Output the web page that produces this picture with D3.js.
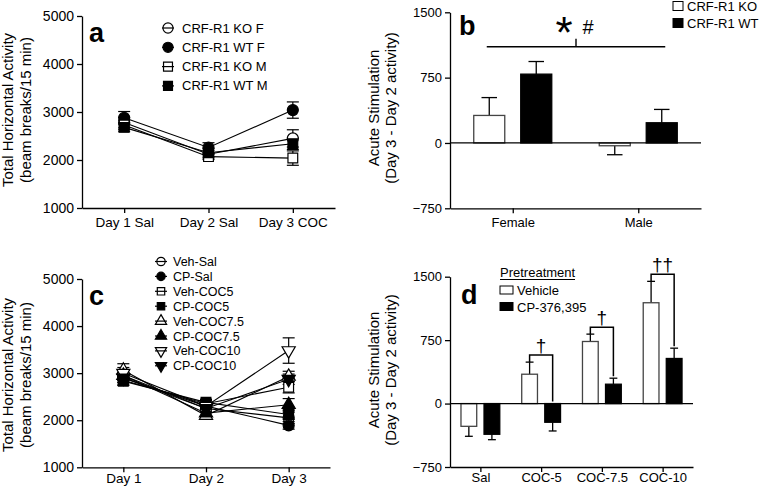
<!DOCTYPE html>
<html><head><meta charset="utf-8">
<script src="https://cdn.jsdelivr.net/npm/d3@7"></script>
<style>
body{margin:0;background:#fff}
svg text{font-family:Arial,"Liberation Sans",sans-serif;fill:#000}
</style>
</head><body>
<svg id="chart" width="761" height="487"></svg>
<script>
// ---------- Panel a data ----------
const daysA = ["Day 1 Sal", "Day 2 Sal", "Day 3 COC"];
const seriesA = ["CRF-R1 KO F", "CRF-R1 WT F", "CRF-R1 KO M", "CRF-R1 WT M"];
const koF = [2780, 2120, 2450];
const koFErr = [110, 80, 180];
const wtF = [2880, 2260, 3040];
const wtFErr = [130, 100, 170];
const koM = [2730, 2070, 2040];
const koMErr = [100, 60, 150];
const wtM = [2680, 2150, 2340];
const wtMErr = [90, 90, 120];
const ticksActivity = [1000, 2000, 3000, 4000, 5000];

// ---------- Panel b data ----------
const sexB = ["Female", "Male"];
const genotypeB = ["CRF-R1 KO", "CRF-R1 WT"];
const koB = [316, -32];
const koBErr = [205, 103];
const wtB = [790, 232];
const wtBErr = [145, 153];
const ticksStim = [-750, 0, 750, 1500];

// ---------- Panel c data ----------
const daysC = ["Day 1", "Day 2", "Day 3"];
const seriesC = ["Veh-Sal", "CP-Sal", "Veh-COC5", "CP-COC5", "Veh-COC7.5", "CP-COC7.5", "Veh-COC10", "CP-COC10"];
const vehSal = [2950, 2250, 2050];
const cpSal = [2900, 2300, 1890];
const vehCOC5 = [2850, 2350, 2700];
const cpCOC5 = [2830, 2380, 2120];
const vehCOC75 = [3060, 2100, 2930];
const cpCOC75 = [2950, 2150, 2330];
const vehCOC10 = [3000, 2300, 3480];
const cpCOC10 = [2900, 2250, 2870];
const vehSalErr = [110, 80, 120];
const cpSalErr = [100, 70, 80];
const vehCOC5Err = [100, 70, 120];
const cpCOC5Err = [90, 60, 100];
const vehCOC75Err = [140, 70, 110];
const cpCOC75Err = [110, 70, 130];
const vehCOC10Err = [120, 80, 270];
const cpCOC10Err = [100, 70, 110];

// ---------- Panel d data ----------
const doseD = ["Sal", "COC-5", "COC-7.5", "COC-10"];
const pretreatD = ["Vehicle", "CP-376,395"];
const vehD = [-269, 347, 734, 1192];
const vehDErr = [118, 143, 87, 253];
const cpD = [-363, -221, 229, 533];
const cpDErr = [64, 103, 71, 122];
const sigD = ["", "†", "†", "††"];

const svg = d3.select("#chart");
svg.append("rect").attr("width", 761).attr("height", 487).attr("fill", "#fff");

const FONT = 'Arial, "Liberation Sans", sans-serif';

function styleAxis(g, fs) {
  g.attr("font-family", FONT).attr("font-size", fs);
  g.select(".domain").attr("stroke", "#000").attr("stroke-width", 1.3);
  g.selectAll(".tick line").attr("stroke", "#000").attr("stroke-width", 1.3);
  g.selectAll(".tick text").attr("fill", "#000");
}

function yTitle(lines, xs, cy) {
  lines.forEach((t, i) => {
    svg.append("text").attr("transform", `translate(${xs[i]},${cy}) rotate(-90)`)
      .attr("text-anchor", "middle").attr("font-size", 15).text(t);
  });
}

function panelLetter(t, x, y) {
  svg.append("text").attr("x", x).attr("y", y).attr("font-size", 27)
    .attr("font-weight", "bold").text(t);
}

function symbolPath(kind, size) {
  const type = kind.startsWith("circle") ? d3.symbolCircle :
               kind.startsWith("square") ? d3.symbolSquare : d3.symbolTriangle;
  return d3.symbol().type(type).size(size)();
}

// ---------- line panel ----------
function linePanel(opt) {
  const x = d3.scalePoint().domain(opt.days).range(opt.xRange).padding(0.5);
  const y = d3.scaleLinear().domain([1000, 5000]).range(opt.yRange);
  const g = svg.append("g");
  const ax = g.append("g").attr("transform", `translate(0,${opt.yRange[0]})`)
    .call(d3.axisBottom(x).tickSize(5).tickSizeOuter(0).tickPadding(opt.xPad));
  styleAxis(ax, 13.5);
  const ay = g.append("g").attr("transform", `translate(${opt.xRange[0]},0)`)
    .call(d3.axisLeft(y).tickValues(ticksActivity).tickSize(5).tickSizeOuter(0).tickPadding(3).tickFormat(d3.format("d")));
  styleAxis(ay, 14);

  const line = d3.line().x((d, i) => x(opt.days[i])).y(d => y(d));
  opt.series.forEach(s => {
    g.append("path").attr("d", line(s.values)).attr("fill", "none")
      .attr("stroke", "#000").attr("stroke-width", 1.1);
  });
  opt.series.forEach(s => {
    s.values.forEach((v, i) => {
      const cx = x(opt.days[i]);
      const e = s.err[i];
      g.append("line").attr("x1", cx).attr("x2", cx).attr("y1", y(v - e)).attr("y2", y(v + e))
        .attr("stroke", "#000").attr("stroke-width", 1.2);
      [v - e, v + e].forEach(w => g.append("line").attr("x1", cx - 6).attr("x2", cx + 6)
        .attr("y1", y(w)).attr("y2", y(w)).attr("stroke", "#000").attr("stroke-width", 1.2));
    });
  });
  opt.series.forEach(s => {
    s.values.forEach((v, i) => {
      const rot = s.kind.includes("down") ? 180 : 0;
      g.append("path").attr("d", symbolPath(s.kind, s.kind.startsWith("tri") ? 75 : 95))
        .attr("transform", `translate(${x(opt.days[i])},${y(v)}) rotate(${rot})`)
        .attr("fill", s.filled ? "#000" : "#fff").attr("stroke", "#000").attr("stroke-width", 1.2);
    });
  });
  // legend
  opt.series.forEach((s, i) => {
    const cy = opt.legY + i * opt.legDy;
    const lg = g.append("g");
    lg.append("line").attr("x1", opt.legX - 6).attr("x2", opt.legX + 6).attr("y1", cy).attr("y2", cy)
      .attr("stroke", "#000").attr("stroke-width", 1.2);
    const rot = s.kind.includes("down") ? 180 : 0;
    lg.append("path").attr("d", symbolPath(s.kind, opt.legSize))
      .attr("transform", `translate(${opt.legX},${cy}) rotate(${rot})`)
      .attr("fill", s.filled ? "#000" : "none").attr("stroke", "#000").attr("stroke-width", 1.2);
    lg.append("text").attr("x", opt.legX + opt.legTx).attr("y", cy + 4.5)
      .attr("font-size", opt.legFs).text(s.name);
  });
}

// ---------- bar panel ----------
function barPanel(opt) {
  const x = d3.scalePoint().domain(opt.groups).range(opt.xRange).padding(0.5);
  const inner = d3.scaleBand().domain([0, 1]).range([-opt.half, opt.half]).paddingInner(opt.pin);
  const y = d3.scaleLinear().domain([-750, 1500]).range(opt.yRange);
  const g = svg.append("g");
  const ax = g.append("g").attr("transform", `translate(0,${opt.yRange[0]})`)
    .call(d3.axisBottom(x).tickSize(5).tickSizeOuter(0).tickPadding(opt.xPad));
  styleAxis(ax, 13);
  const ay = g.append("g").attr("transform", `translate(${opt.xRange[0]},0)`)
    .call(d3.axisLeft(y).tickValues(ticksStim).tickSize(5).tickSizeOuter(0).tickPadding(3).tickFormat(d3.format("d")));
  styleAxis(ay, 13);

  const bw = inner.bandwidth();
  const cap = bw / 2;
  [opt.a, opt.b].forEach((vals, k) => {
    const errs = k === 0 ? opt.aErr : opt.bErr;
    vals.forEach((v, i) => {
      const bx = x(opt.groups[i]) + inner(k);
      const cx = bx + bw / 2;
      const tip = v + (v >= 0 ? errs[i] : -errs[i]);
      g.append("line").attr("x1", cx).attr("x2", cx).attr("y1", y(v)).attr("y2", y(tip))
        .attr("stroke", "#000").attr("stroke-width", 1.3);
      g.append("line").attr("x1", cx - cap / 2).attr("x2", cx + cap / 2).attr("y1", y(tip)).attr("y2", y(tip))
        .attr("stroke", "#000").attr("stroke-width", 1.3);
      g.append("rect").attr("x", bx).attr("width", bw)
        .attr("y", y(Math.max(v, 0))).attr("height", Math.abs(y(v) - y(0)))
        .attr("fill", k === 0 ? "#fff" : "#000").attr("stroke", k === 0 ? "#444" : "#000").attr("stroke-width", 1.3);
    });
  });
  g.append("line").attr("x1", opt.xRange[0]).attr("x2", opt.xRange[1]).attr("y1", y(0)).attr("y2", y(0))
    .attr("stroke", "#000").attr("stroke-width", 1.3);
  return { x, y, inner, bw };
}

// ===== Panel a =====
linePanel({
  days: daysA, xRange: [82, 335], yRange: [208, 16], xPad: 4,
  series: [
    { name: seriesA[0], values: koF, err: koFErr, kind: "circle", filled: false },
    { name: seriesA[1], values: wtF, err: wtFErr, kind: "circle", filled: true },
    { name: seriesA[2], values: koM, err: koMErr, kind: "square", filled: false },
    { name: seriesA[3], values: wtM, err: wtMErr, kind: "square", filled: true }
  ],
  legX: 168, legY: 28, legDy: 19.3, legTx: 14, legSize: 80, legFs: 13
});
panelLetter("a", 89, 42);
yTitle(["Total Horizontal Activity", "(beam breaks/15 min)"], [13, 31], 110);

// ===== Panel c =====
linePanel({
  days: daysC, xRange: [82, 330], yRange: [467.3, 279], xPad: 1,
  series: [
    { name: seriesC[0], values: vehSal, err: vehSalErr, kind: "circle", filled: false },
    { name: seriesC[1], values: cpSal, err: cpSalErr, kind: "circle", filled: true },
    { name: seriesC[2], values: vehCOC5, err: vehCOC5Err, kind: "square", filled: false },
    { name: seriesC[3], values: cpCOC5, err: cpCOC5Err, kind: "square", filled: true },
    { name: seriesC[4], values: vehCOC75, err: vehCOC75Err, kind: "triangle", filled: false },
    { name: seriesC[5], values: cpCOC75, err: cpCOC75Err, kind: "triangle", filled: true },
    { name: seriesC[6], values: vehCOC10, err: vehCOC10Err, kind: "triangle-down", filled: false },
    { name: seriesC[7], values: cpCOC10, err: cpCOC10Err, kind: "triangle-down", filled: true }
  ],
  legX: 161, legY: 261.5, legDy: 14.9, legTx: 12, legSize: 55, legFs: 12.5
});
panelLetter("c", 89, 305);
yTitle(["Total Horizontal Activity", "(beam breaks/15 min)"], [13, 31], 375);

// ===== Panel b =====
const pb = barPanel({
  groups: sexB, xRange: [450, 701], yRange: [208.3, 12.3], xPad: 4,
  half: 39, pin: 0.34, a: koB, aErr: koBErr, b: wtB, bErr: wtBErr
});
panelLetter("b", 459, 35);
yTitle(["Acute Stimulation", "(Day 3 - Day 2 activity)"], [379, 396], 108);
{
  const x1 = pb.x(sexB[0]) - 26, x2 = pb.x(sexB[1]) + 27, ys = pb.y(1104), xm = (x1 + x2) / 2;
  svg.append("line").attr("x1", x1).attr("x2", x2).attr("y1", ys).attr("y2", ys).attr("stroke", "#000").attr("stroke-width", 1.4);
  svg.append("line").attr("x1", xm).attr("x2", xm).attr("y1", ys).attr("y2", ys - 8).attr("stroke", "#000").attr("stroke-width", 1.4);
  svg.append("text").attr("x", xm - 12).attr("y", 48).attr("text-anchor", "middle").attr("font-size", 44).text("*");
  svg.append("text").attr("x", xm + 12).attr("y", 34).attr("text-anchor", "middle").attr("font-size", 20).text("#");
}
genotypeB.forEach((t, i) => {
  const cy = 6 + i * 17;
  svg.append("rect").attr("x", 673).attr("y", cy - 4.5).attr("width", 10).attr("height", 9)
    .attr("fill", i === 0 ? "#fff" : "#000").attr("stroke", "#000").attr("stroke-width", 1);
  svg.append("text").attr("x", 687).attr("y", cy + 4.5).attr("font-size", 13).text(t);
});

// ===== Panel d =====
const pd = barPanel({
  groups: doseD, xRange: [450, 693], yRange: [467, 276.7], xPad: 1,
  half: 19.4, pin: 0.317, a: vehD, aErr: vehDErr, b: cpD, bErr: cpDErr
});
panelLetter("d", 461, 304);
yTitle(["Acute Stimulation", "(Day 3 - Day 2 activity)"], [379, 396], 370);
doseD.forEach((dname, i) => {
  if (!sigD[i]) return;
  const xl = pd.x(dname) + pd.inner(0) + pd.bw / 2;
  const xr = pd.x(dname) + pd.inner(1) + pd.bw / 2;
  const yl = pd.y(vehD[i] + vehDErr[i]);
  const cpTop = cpD[i] >= 0 ? cpD[i] + cpDErr[i] : 0;
  const yr = pd.y(cpTop) - 2;
  const yb = yl - 7;
  svg.append("path").attr("d", `M${xl},${yl}V${yb}H${xr}V${yr}`).attr("fill", "none")
    .attr("stroke", "#000").attr("stroke-width", 1.5);
  svg.append("text").attr("x", (xl + xr) / 2).attr("y", yb - 3).attr("text-anchor", "middle")
    .attr("font-size", 19).style("fill", "#000").text(sigD[i]);
});
svg.append("text").attr("x", 500).attr("y", 277).attr("font-size", 13).text("Pretreatment");
svg.append("line").attr("x1", 500).attr("x2", 575).attr("y1", 279.5).attr("y2", 279.5).attr("stroke", "#000").attr("stroke-width", 1);
pretreatD.forEach((t, i) => {
  const cy = 290 + i * 16.5;
  svg.append("rect").attr("x", 500).attr("y", cy - 4).attr("width", 13).attr("height", 8)
    .attr("fill", i === 0 ? "#fff" : "#000").attr("stroke", "#000").attr("stroke-width", 1);
  svg.append("text").attr("x", 517).attr("y", cy + 5).attr("font-size", 13).text(t);
});
</script>
</body></html>
